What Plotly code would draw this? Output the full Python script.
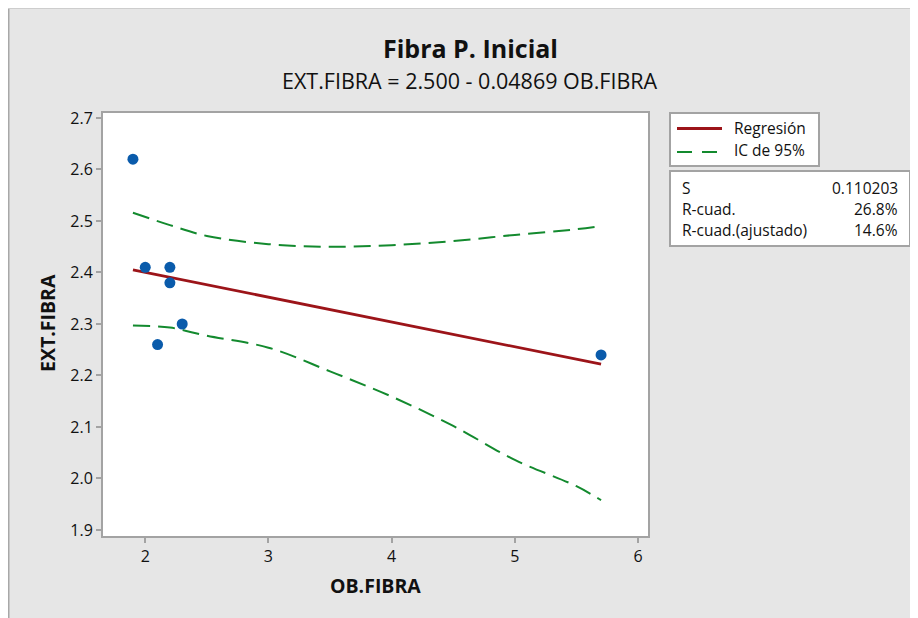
import plotly.graph_objects as go

# ---- data ----
ob_fibra = [1.9, 2.0, 2.1, 2.2, 2.2, 2.3, 5.7]
ext_fibra = [2.62, 2.41, 2.26, 2.41, 2.38, 2.30, 2.24]

fit_x = [1.9, 5.7]
fit_y = [2.405, 2.222]

ci_x = [1.9, 2.2, 2.5, 3.0, 3.5, 4.0, 4.5, 5.0, 5.5, 5.7]
ci_upper = [2.516, 2.492, 2.471, 2.455, 2.450, 2.453, 2.461, 2.473, 2.484, 2.490]
ci_lower = [2.297, 2.293, 2.277, 2.254, 2.208, 2.159, 2.102, 2.036, 1.985, 1.958]

x_ticks = [2, 3, 4, 5, 6]
y_ticks = [1.9, 2.0, 2.1, 2.2, 2.3, 2.4, 2.5, 2.6, 2.7]
y_ticklabels = ["1.9", "2.0", "2.1", "2.2", "2.3", "2.4", "2.5", "2.6", "2.7"]

title = "Fibra P. Inicial"
subtitle = "EXT.FIBRA = 2.500 - 0.04869 OB.FIBRA"
x_title = "OB.FIBRA"
y_title = "EXT.FIBRA"
legend_labels = ["Regresión", "IC de 95%"]
stat_names = ["S", "R-cuad.", "R-cuad.(ajustado)"]
stat_values = ["0.110203", "26.8%", "14.6%"]

FONT = "Open Sans, Noto Sans, sans-serif"
RED = "#9c1419"
GREEN = "#138a2e"
BLUE = "#0a5bab"
BORDER = "#a3a3a3"
TXT = "#111111"

OFF = 8  # page body margin
W, H = 918, 618
L, T = 95, 105
PW, PH = 545, 423
R, B = W - L - PW, H - T - PH


def xp(sx):
    return (sx - OFF - L) / PW


def yp(sy):
    return (T + PH - (sy - OFF)) / PH


fig = go.Figure()

dash = "17px,8px"
fig.add_trace(go.Scatter(x=ci_x, y=ci_upper, mode="lines", line=dict(color=GREEN, width=2, dash=dash, shape="spline"), showlegend=False, hoverinfo="skip"))
fig.add_trace(go.Scatter(x=ci_x, y=ci_lower, mode="lines", line=dict(color=GREEN, width=2, dash=dash, shape="spline"), showlegend=False, hoverinfo="skip"))
fig.add_trace(go.Scatter(x=fit_x, y=fit_y, mode="lines", line=dict(color=RED, width=2.8), showlegend=False))
fig.add_trace(go.Scatter(x=ob_fibra, y=ext_fibra, mode="markers", marker=dict(color=BLUE, size=11), showlegend=False))

shapes = []
# frame lines of the gray panel
shapes.append(dict(type="line", xref="paper", yref="paper", x0=xp(8.75), x1=xp(8.75), y0=yp(8), y1=yp(H + 20), line=dict(color="#a8a8a8", width=1.5)))
shapes.append(dict(type="line", xref="paper", yref="paper", x0=xp(8), x1=xp(W + 20), y0=yp(8.5), y1=yp(8.5), line=dict(color="#cdcdcd", width=1)))

# legend box
shapes.append(dict(type="rect", xref="paper", yref="paper", x0=xp(670), x1=xp(819), y0=yp(166), y1=yp(113), fillcolor="white", line=dict(color=BORDER, width=2)))
shapes.append(dict(type="line", xref="paper", yref="paper", x0=xp(677), x1=xp(722), y0=yp(128.5), y1=yp(128.5), line=dict(color=RED, width=2.8)))
shapes.append(dict(type="line", xref="paper", yref="paper", x0=xp(677), x1=xp(722), y0=yp(152), y1=yp(152), line=dict(color=GREEN, width=2, dash="15px,10px")))

# stats box
shapes.append(dict(type="rect", xref="paper", yref="paper", x0=xp(670), x1=xp(910), y0=yp(246), y1=yp(171), fillcolor="white", line=dict(color=BORDER, width=2)))

annotations = []
annotations.append(dict(text=f"<b>{title}</b>", x=xp(470), y=yp(48), xref="paper", yref="paper", showarrow=False, xanchor="center", yanchor="middle", font=dict(family=FONT, size=25, color=TXT)))
annotations.append(dict(text=subtitle, x=xp(470), y=yp(80), xref="paper", yref="paper", showarrow=False, xanchor="center", yanchor="middle", font=dict(family=FONT, size=21.5, color=TXT, weight=500)))
annotations.append(dict(text=f"<b>{x_title}</b>", x=xp(375), y=yp(585), xref="paper", yref="paper", showarrow=False, xanchor="center", yanchor="middle", font=dict(family=FONT, size=19.5, color=TXT)))
annotations.append(dict(text=f"<b>{y_title}</b>", x=xp(47), y=yp(323), xref="paper", yref="paper", showarrow=False, xanchor="center", yanchor="middle", textangle=-90, font=dict(family=FONT, size=19.5, color=TXT)))

leg_y = [128, 150]
for lab, py in zip(legend_labels, leg_y):
    annotations.append(dict(text=lab, x=xp(732), y=yp(py), xref="paper", yref="paper", showarrow=False, xanchor="left", yanchor="middle", font=dict(family=FONT, size=15.5, color=TXT)))

stat_y = [188, 209, 230]
for name, val, py in zip(stat_names, stat_values, stat_y):
    annotations.append(dict(text=name, x=xp(680), y=yp(py), xref="paper", yref="paper", showarrow=False, xanchor="left", yanchor="middle", font=dict(family=FONT, size=15.5, color=TXT)))
    annotations.append(dict(text=val, x=xp(900), y=yp(py), xref="paper", yref="paper", showarrow=False, xanchor="right", yanchor="middle", font=dict(family=FONT, size=15.5, color=TXT)))

fig.update_layout(
    width=W, height=H,
    margin=dict(l=L, r=R, t=T, b=B, pad=0),
    paper_bgcolor="#e6e6e6",
    plot_bgcolor="white",
    showlegend=False,
    shapes=shapes,
    annotations=annotations,
    font=dict(family=FONT, size=16, color=TXT),
)
fig.update_xaxes(
    range=[1.657, 6.081], tickvals=x_ticks, ticktext=[str(v) for v in x_ticks],
    showgrid=False, zeroline=False, showline=True, linecolor=BORDER, linewidth=2, mirror=True,
    ticks="outside", ticklen=5, tickwidth=1.5, tickcolor=BORDER,
    tickfont=dict(family=FONT, size=16, color=TXT),
)
fig.update_yaxes(
    range=[1.8883, 2.7097], tickvals=y_ticks, ticktext=y_ticklabels,
    showgrid=False, zeroline=False, showline=True, linecolor=BORDER, linewidth=2, mirror=True,
    ticks="outside", ticklen=5, tickwidth=1.5, tickcolor=BORDER,
    tickfont=dict(family=FONT, size=16, color=TXT),
)

fig.write_html("out.html")
